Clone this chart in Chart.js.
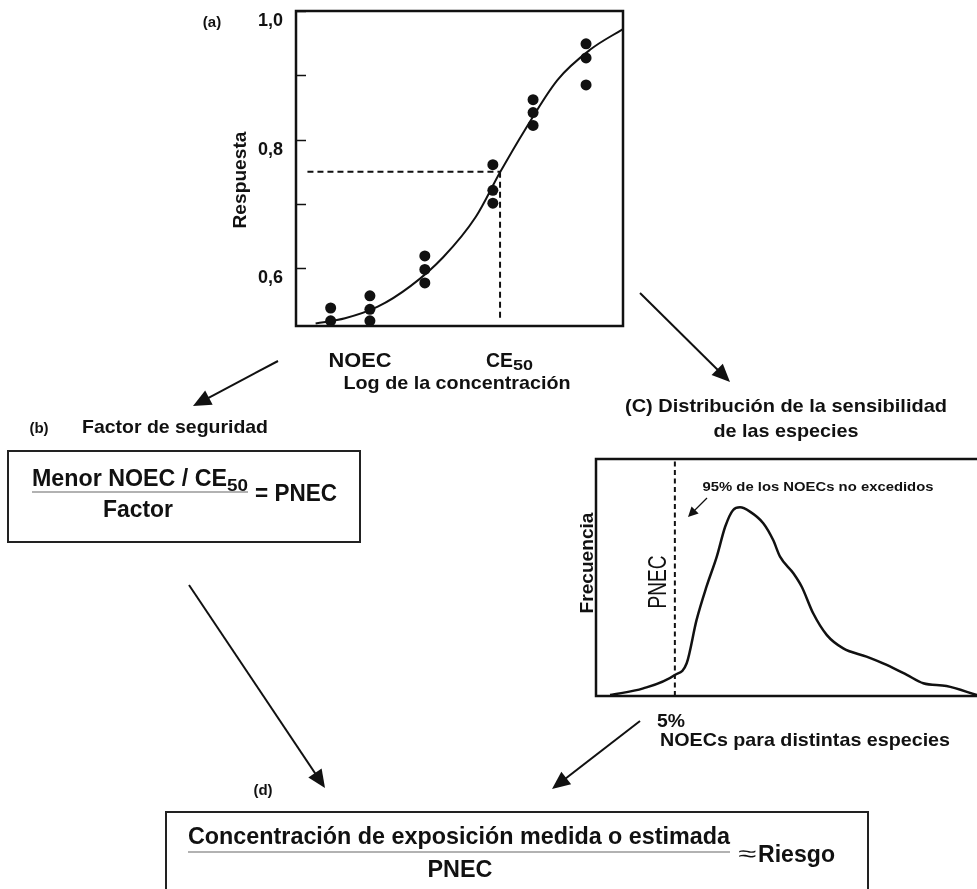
<!DOCTYPE html>
<html>
<head>
<meta charset="utf-8">
<script src="https://cdn.jsdelivr.net/npm/chart.js@4/dist/chart.umd.min.js"></script>
<style>
  html, body { margin: 0; padding: 0; background: #fff; }
  body { width: 977px; height: 889px; position: relative; overflow: hidden; }
  #doseChart { position: absolute; left: 180px; top: 0; }
  #ssdChart { position: absolute; left: 560px; top: 440px; }
  #overlay { position: absolute; left: 0; top: 0; z-index: 2; }
  text { font-family: "Liberation Sans", Arial, sans-serif; font-weight: bold; fill: #111; }
</style>
</head>
<body>
<canvas id="doseChart" width="460" height="340"></canvas>
<canvas id="ssdChart" width="417" height="270"></canvas>

<svg id="overlay" width="977" height="889" xmlns="http://www.w3.org/2000/svg">
  <!-- (a) labels -->
  <text x="212" y="27" font-size="15" text-anchor="middle">(a)</text>
  <text transform="translate(246,180) rotate(-90)" font-size="18" text-anchor="middle" textLength="97" lengthAdjust="spacingAndGlyphs">Respuesta</text>
  <text x="360" y="367" font-size="21" text-anchor="middle" textLength="63" lengthAdjust="spacingAndGlyphs">NOEC</text>
  <text x="486" y="367" font-size="21" textLength="27" lengthAdjust="spacingAndGlyphs">CE</text>
  <text x="513" y="370" font-size="14" textLength="20" lengthAdjust="spacingAndGlyphs">50</text>
  <text x="457" y="389" font-size="19" text-anchor="middle" textLength="227" lengthAdjust="spacingAndGlyphs">Log de la concentración</text>

  <!-- (b) safety factor -->
  <text x="39" y="433" font-size="15" text-anchor="middle">(b)</text>
  <text x="82" y="433" font-size="19" textLength="186" lengthAdjust="spacingAndGlyphs">Factor de seguridad</text>
  <rect x="8" y="451" width="352" height="91" fill="none" stroke="#222" stroke-width="2"/>
  <text x="32" y="486" font-size="24" textLength="195" lengthAdjust="spacingAndGlyphs">Menor NOEC / CE</text>
  <text x="227" y="491" font-size="16" textLength="21" lengthAdjust="spacingAndGlyphs">50</text>
  <line x1="32" y1="492" x2="248" y2="492" stroke="#666" stroke-width="1.2"/>
  <text x="103" y="517" font-size="24" textLength="70" lengthAdjust="spacingAndGlyphs">Factor</text>
  <text x="255" y="501" font-size="24" textLength="82" lengthAdjust="spacingAndGlyphs">= PNEC</text>

  <!-- (c) species sensitivity distribution -->
  <text x="786" y="412" font-size="19" text-anchor="middle" textLength="322" lengthAdjust="spacingAndGlyphs">(C) Distribución de la sensibilidad</text>
  <text x="786" y="437" font-size="19" text-anchor="middle" textLength="145" lengthAdjust="spacingAndGlyphs">de las especies</text>
  <text transform="translate(593,563) rotate(-90)" font-size="19" text-anchor="middle" textLength="101" lengthAdjust="spacingAndGlyphs">Frecuencia</text>
  <text transform="translate(666,582) rotate(-90)" font-size="25" text-anchor="middle" style="font-weight:normal" textLength="53" lengthAdjust="spacingAndGlyphs">PNEC</text>
  <text x="818" y="491" font-size="13" text-anchor="middle" textLength="231" lengthAdjust="spacingAndGlyphs">95% de los NOECs no excedidos</text>
  <text x="657" y="727" font-size="19" textLength="28" lengthAdjust="spacingAndGlyphs">5%</text>
  <text x="660" y="746" font-size="19" textLength="290" lengthAdjust="spacingAndGlyphs">NOECs para distintas especies</text>

  <!-- (d) risk -->
  <text x="263" y="795" font-size="15" text-anchor="middle">(d)</text>
  <rect x="166" y="812" width="702" height="100" fill="none" stroke="#222" stroke-width="2"/>
  <text x="188" y="844" font-size="24" textLength="542" lengthAdjust="spacingAndGlyphs">Concentración de exposición medida o estimada</text>
  <line x1="188" y1="852" x2="730" y2="852" stroke="#666" stroke-width="1.2"/>
  <text x="460" y="877" font-size="24" text-anchor="middle" textLength="65" lengthAdjust="spacingAndGlyphs">PNEC</text>
  <text x="738" y="861" font-size="22" style="font-weight:normal" textLength="18" lengthAdjust="spacingAndGlyphs">≈</text>
  <text x="758" y="862" font-size="24" textLength="77" lengthAdjust="spacingAndGlyphs">Riesgo</text>

  <g id="arrows"></g>
</svg>

<script>
// ---- (a) dose-response curve ----
const doseCurveX = [0.6, 1.5, 2.5, 3.5, 4.5, 5.5, 6.24, 7.0, 8.0, 9.0, 10];
const doseCurveY = [0.514, 0.522, 0.54, 0.572, 0.617, 0.68, 0.749, 0.815, 0.893, 0.94, 0.972];

// observed responses
const obsX = [1.06, 1.06, 2.26, 2.26, 2.26, 3.94, 3.94, 3.94, 6.02, 6.02, 6.02, 7.25, 7.25, 7.25, 8.87, 8.87, 8.87];
const obsY = [0.538, 0.518, 0.557, 0.536, 0.518, 0.619, 0.598, 0.577, 0.761, 0.721, 0.701, 0.862, 0.842, 0.822, 0.949, 0.927, 0.885];

// CE50 guide lines
const ce50X = 6.24;
const ce50Y = 0.75;

const yTickValues = [0.6, 0.7, 0.8, 0.9, 1.0];
const yTickLabels = ['0,6', '', '0,8', '', '1,0'];

// ---- (c) species sensitivity distribution ----
const ssdX = [0.37, 1.24, 2.07, 2.38, 2.64, 2.90, 3.17, 3.39, 3.60, 3.78, 4.04, 4.39, 4.65, 4.83, 5.18, 5.40, 5.70, 6.06, 6.49, 7.10, 7.63, 8.16, 8.59, 9.20, 10];
const ssdY = [0.04, 0.32, 0.89, 1.38, 3.21, 4.61, 5.88, 7.14, 7.85, 7.96, 7.78, 7.29, 6.58, 5.88, 5.18, 4.61, 3.49, 2.57, 2.01, 1.66, 1.31, 0.89, 0.54, 0.42, 0.04];
const pnecX = 2.07;

const INK = '#111';

// box around the plot area, open on the right if asked, plus inward ticks
const framePlugin = {
    id: 'frame',
    afterDraw(chart, args, opts) {
        const { ctx, chartArea: a } = chart;
        ctx.save();
        ctx.strokeStyle = INK;
        ctx.lineWidth = opts.width || 2.5;
        ctx.strokeRect(a.left, a.top, a.width + (opts.openRight ? 10 : 0), a.height);
        if (opts.tickLen) {
            ctx.lineWidth = 1.5;
            const ys = chart.scales.y;
            ys.ticks.forEach(t => {
                const py = Math.round(ys.getPixelForValue(t.value)) + 0.5;
                ctx.beginPath();
                ctx.moveTo(a.left, py);
                ctx.lineTo(a.left + opts.tickLen, py);
                ctx.stroke();
            });
        }
        ctx.restore();
    }
};

const toPoints = (xs, ys) => xs.map((x, i) => ({ x: x, y: ys[i] }));

new Chart(document.getElementById('doseChart'), {
    type: 'scatter',
    data: {
        datasets: [
            {
                type: 'line',
                data: toPoints(doseCurveX, doseCurveY),
                borderColor: INK,
                borderWidth: 2,
                pointRadius: 0,
                cubicInterpolationMode: 'monotone',
                fill: false
            },
            {
                data: toPoints(obsX, obsY),
                backgroundColor: INK,
                borderWidth: 0,
                pointRadius: 5.5
            },
            {
                type: 'line',
                data: [{ x: 0.35, y: ce50Y }, { x: ce50X, y: ce50Y }],
                borderColor: INK,
                borderWidth: 2,
                borderDash: [6, 4],
                pointRadius: 0
            },
            {
                type: 'line',
                data: [{ x: ce50X, y: ce50Y }, { x: ce50X, y: 0.522 }],
                borderColor: INK,
                borderWidth: 2,
                borderDash: [6, 4],
                pointRadius: 0
            }
        ]
    },
    options: {
        responsive: false,
        animation: false,
        layout: { padding: { left: 54, top: 11, right: 17, bottom: 14 } },
        plugins: {
            legend: { display: false },
            tooltip: { enabled: false },
            frame: { width: 2.5, tickLen: 10 }
        },
        scales: {
            x: { type: 'linear', min: 0, max: 10, display: false },
            y: {
                type: 'linear',
                min: 0.51,
                max: 1.0,
                afterBuildTicks: s => { s.ticks = yTickValues.map(v => ({ value: v })); },
                afterFit: s => {
                    s.width = 62;
                    s.paddingTop = 0;
                    s.paddingBottom = 0;
                },
                grid: { display: false, drawTicks: false },
                border: { display: false },
                ticks: {
                    autoSkip: false,
                    padding: 13,
                    labelOffset: 10,
                    color: INK,
                    font: { family: '"Liberation Sans", Arial, sans-serif', size: 18, weight: 'bold' },
                    callback: v => {
                        const i = yTickValues.findIndex(t => Math.abs(t - v) < 1e-6);
                        return i >= 0 ? yTickLabels[i] : '';
                    }
                }
            }
        }
    },
    plugins: [framePlugin]
});

new Chart(document.getElementById('ssdChart'), {
    type: 'line',
    data: {
        datasets: [
            {
                data: toPoints(ssdX, ssdY),
                borderColor: INK,
                borderWidth: 2.5,
                pointRadius: 0,
                cubicInterpolationMode: 'monotone',
                fill: false
            },
            {
                data: [{ x: pnecX, y: 0 }, { x: pnecX, y: 10 }],
                borderColor: INK,
                borderWidth: 2,
                borderDash: [5, 3.5],
                pointRadius: 0
            }
        ]
    },
    options: {
        responsive: false,
        animation: false,
        layout: { padding: { left: 36, top: 19, right: 0, bottom: 14 } },
        plugins: {
            legend: { display: false },
            tooltip: { enabled: false },
            frame: { width: 2.5, openRight: true }
        },
        scales: {
            x: { type: 'linear', min: 0, max: 10, display: false },
            y: { type: 'linear', min: 0, max: 10, display: false }
        }
    },
    plugins: [framePlugin]
});

// connecting arrows between the panels
const arrowDefs = [
    [278, 361, 193, 406, 2, 18, 8],
    [640, 293, 730, 382, 2, 18, 8],
    [189, 585, 325, 788, 2, 18, 8],
    [640, 721, 552, 789, 2, 18, 8],
    [707, 498, 688, 517, 1.3, 10, 5]
];

const NS = 'http://www.w3.org/2000/svg';
const arrowLayer = document.getElementById('arrows');
arrowDefs.forEach(([x1, y1, x2, y2, w, hl, hw]) => {
    const dx = x2 - x1, dy = y2 - y1;
    const len = Math.hypot(dx, dy);
    const ux = dx / len, uy = dy / len;
    const bx = x2 - ux * hl, by = y2 - uy * hl;

    const ln = document.createElementNS(NS, 'line');
    ln.setAttribute('x1', x1); ln.setAttribute('y1', y1);
    ln.setAttribute('x2', bx + ux * 2); ln.setAttribute('y2', by + uy * 2);
    ln.setAttribute('stroke', INK);
    ln.setAttribute('stroke-width', w);
    arrowLayer.appendChild(ln);

    const head = document.createElementNS(NS, 'polygon');
    head.setAttribute('points', [
        x2 + ',' + y2,
        (bx - uy * hw) + ',' + (by + ux * hw),
        (bx + uy * hw) + ',' + (by - ux * hw)
    ].join(' '));
    head.setAttribute('fill', INK);
    arrowLayer.appendChild(head);
});
</script>
</body>
</html>
